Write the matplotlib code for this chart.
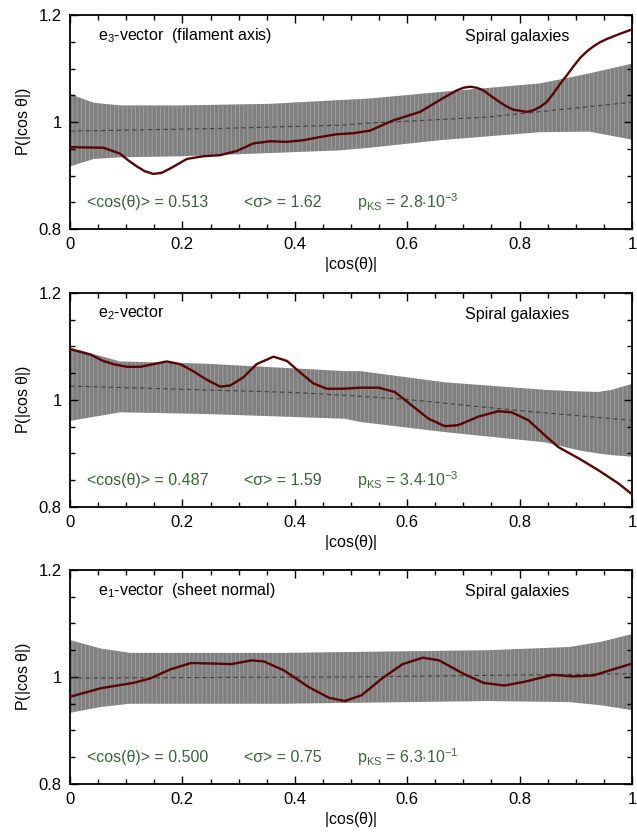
import matplotlib
matplotlib.use("Agg")
import matplotlib.pyplot as plt
from matplotlib.ticker import MultipleLocator, FormatStrFormatter

plt.rcParams["font.family"] = ["Liberation Sans", "DejaVu Sans"]
plt.rcParams["mathtext.fontset"] = "custom"
plt.rcParams["mathtext.rm"] = "Liberation Sans"
plt.rcParams["mathtext.it"] = "Liberation Sans:italic"
plt.rcParams["hatch.linewidth"] = 0.45
plt.rcParams["hatch.color"] = "#acacac"

# ---- data ----
# e3 panel
e3_x = [0.0, 0.059, 0.089, 0.104, 0.119, 0.133, 0.148, 0.163, 0.178, 0.208,
        0.237, 0.267, 0.297, 0.326, 0.356, 0.386, 0.415, 0.445, 0.474, 0.504,
        0.534, 0.575, 0.623, 0.658, 0.688, 0.700, 0.712, 0.724, 0.736, 0.750,
        0.765, 0.777, 0.789, 0.801, 0.813, 0.825, 0.836, 0.848, 0.860, 0.872,
        0.884, 0.896, 0.908, 0.920, 0.931, 0.943, 0.955, 0.967, 0.979, 1.0]
e3_y = [0.953, 0.952, 0.941, 0.928, 0.917, 0.908, 0.903, 0.905, 0.913, 0.931,
        0.936, 0.938, 0.946, 0.960, 0.964, 0.963, 0.966, 0.972, 0.977, 0.979,
        0.984, 1.003, 1.019, 1.041, 1.059, 1.064, 1.066, 1.064, 1.059, 1.048,
        1.037, 1.029, 1.023, 1.021, 1.019, 1.022, 1.028, 1.037, 1.053, 1.071,
        1.087, 1.104, 1.120, 1.132, 1.141, 1.149, 1.155, 1.160, 1.165, 1.173]
e3_band_x = [0.0, 0.042, 0.089, 0.2, 0.356, 0.48, 0.534, 0.658, 0.836, 0.925, 1.0]
e3_hi = [1.052, 1.036, 1.031, 1.031, 1.034, 1.041, 1.044, 1.056, 1.072, 1.091, 1.109]
e3_lo = [0.917, 0.931, 0.934, 0.936, 0.942, 0.947, 0.952, 0.966, 0.981, 0.982, 0.967]
e3_mean_x = [0.0, 0.267, 0.48, 0.534, 0.741, 1.0]
e3_mean = [0.983, 0.988, 0.994, 0.998, 1.009, 1.037]

# e2 panel
e2_x = [0.0, 0.036, 0.059, 0.077, 0.101, 0.125, 0.148, 0.172, 0.196, 0.219,
        0.243, 0.267, 0.285, 0.308, 0.332, 0.362, 0.386, 0.409, 0.433, 0.457,
        0.486, 0.516, 0.549, 0.578, 0.608, 0.638, 0.667, 0.691, 0.727, 0.762,
        0.786, 0.816, 0.845, 0.869, 0.905, 0.940, 0.976, 1.0]
e2_y = [1.095, 1.085, 1.073, 1.067, 1.062, 1.062, 1.067, 1.072, 1.067, 1.054,
        1.038, 1.025, 1.027, 1.042, 1.067, 1.081, 1.073, 1.052, 1.031, 1.021,
        1.021, 1.023, 1.023, 1.015, 0.990, 0.965, 0.951, 0.953, 0.969, 0.979,
        0.977, 0.962, 0.934, 0.912, 0.891, 0.869, 0.844, 0.824]
e2_band_x = [0.0, 0.089, 0.237, 0.489, 0.516, 0.667, 0.845, 0.905, 0.940, 0.964, 1.0]
e2_hi = [1.098, 1.072, 1.068, 1.054, 1.054, 1.033, 1.019, 1.016, 1.015, 1.019, 1.030]
e2_lo = [0.961, 0.977, 0.974, 0.965, 0.959, 0.940, 0.921, 0.906, 0.900, 0.897, 0.894]
e2_mean_x = [0.0, 0.4, 0.516, 0.6, 0.8, 1.0]
e2_mean = [1.026, 1.014, 1.007, 1.001, 0.980, 0.962]

# e1 panel
e1_x = [0.0, 0.055, 0.113, 0.142, 0.178, 0.215, 0.258, 0.287, 0.323, 0.345,
        0.381, 0.425, 0.461, 0.489, 0.519, 0.555, 0.592, 0.628, 0.657, 0.7,
        0.736, 0.773, 0.809, 0.859, 0.895, 0.932, 1.0]
e1_y = [0.963, 0.979, 0.989, 0.997, 1.014, 1.026, 1.025, 1.024, 1.031, 1.029,
        1.012, 0.981, 0.961, 0.955, 0.966, 0.997, 1.024, 1.036, 1.031, 1.006,
        0.989, 0.984, 0.991, 1.004, 1.001, 1.003, 1.025]
e1_band_x = [0.0, 0.055, 0.107, 0.38, 0.745, 0.889, 0.946, 1.0]
e1_hi = [1.069, 1.053, 1.045, 1.045, 1.050, 1.056, 1.066, 1.080]
e1_lo = [0.933, 0.944, 0.950, 0.950, 0.955, 0.953, 0.947, 0.938]
e1_mean_x = [0.0, 0.5, 1.0]
e1_mean = [0.998, 1.000, 1.006]

titles = [r"$\mathregular{e_3}$-vector  (filament axis)",
          r"$\mathregular{e_2}$-vector",
          r"$\mathregular{e_1}$-vector  (sheet normal)"]
mean_cos = ["0.513", "0.487", "0.500"]
mean_sigma = ["1.62", "1.59", "0.75"]
p_ks = [r"2.8$\cdot$10$^{\mathregular{-3}}$",
        r"3.4$\cdot$10$^{\mathregular{-3}}$",
        r"6.3$\cdot$10$^{\mathregular{-1}}$"]

panels = [
    (e3_x, e3_y, e3_band_x, e3_hi, e3_lo, e3_mean_x, e3_mean),
    (e2_x, e2_y, e2_band_x, e2_hi, e2_lo, e2_mean_x, e2_mean),
    (e1_x, e1_y, e1_band_x, e1_hi, e1_lo, e1_mean_x, e1_mean),
]


def main():
    fig = plt.figure(figsize=(6.37, 8.34), dpi=100)
    bottoms = [0.7254, 0.3921, 0.0600]
    green = "#3b633b"
    fs = 11.5

    for i, (cx, cy, bx, hi, lo, mx, my) in enumerate(panels):
        ax = fig.add_axes([0.110, bottoms[i], 0.882, 0.2566])

        # random-orientation band drawn as dense grey error bars
        ax.fill_between(bx, lo, hi, facecolor="#808080", edgecolor="#acacac",
                        hatch="||||", linewidth=0, zorder=1)
        ax.plot(mx, my, color="#404040", lw=0.8, dashes=(4, 3), zorder=2)
        ax.plot(cx, cy, color="#5a0505", lw=1.7, zorder=3,
                solid_joinstyle="round")

        ax.set_xlim(0, 1)
        ax.set_ylim(0.8, 1.2)
        ax.xaxis.set_major_locator(MultipleLocator(0.2))
        ax.xaxis.set_minor_locator(MultipleLocator(0.05))
        ax.yaxis.set_major_locator(MultipleLocator(0.2))
        ax.yaxis.set_minor_locator(MultipleLocator(0.05))
        ax.xaxis.set_major_formatter(FormatStrFormatter("%g"))
        ax.yaxis.set_major_formatter(FormatStrFormatter("%g"))
        ax.tick_params(which="both", direction="in", top=True, right=True,
                       labelsize=12, width=1.0)
        ax.tick_params(which="major", length=6, pad=6)
        ax.tick_params(which="minor", length=3.5)
        for s in ax.spines.values():
            s.set_linewidth(1.3)

        ax.set_xlabel(r"|cos($\mathregular{\theta}$)|", fontsize=fs, labelpad=2)
        ax.set_ylabel(r"P(|cos $\mathregular{\theta}$|)", fontsize=fs, labelpad=4)

        ax.text(0.05, 0.905, titles[i], transform=ax.transAxes, fontsize=fs,
                va="center", ha="left")
        ax.text(0.703, 0.9, "Spiral galaxies", transform=ax.transAxes,
                fontsize=fs, va="center", ha="left")
        ax.text(0.03, 0.125, "<cos(θ)> = " + mean_cos[i], transform=ax.transAxes,
                fontsize=fs, color=green, va="center", ha="left")
        ax.text(0.31, 0.125, "<σ> = " + mean_sigma[i], transform=ax.transAxes,
                fontsize=fs, color=green, va="center", ha="left")
        ax.text(0.51, 0.125, r"p$_{\mathregular{KS}}$ = " + p_ks[i],
                transform=ax.transAxes, fontsize=fs, color=green,
                va="center", ha="left")

    fig.savefig("out.png", dpi=100)


if __name__ == "__main__":
    main()
